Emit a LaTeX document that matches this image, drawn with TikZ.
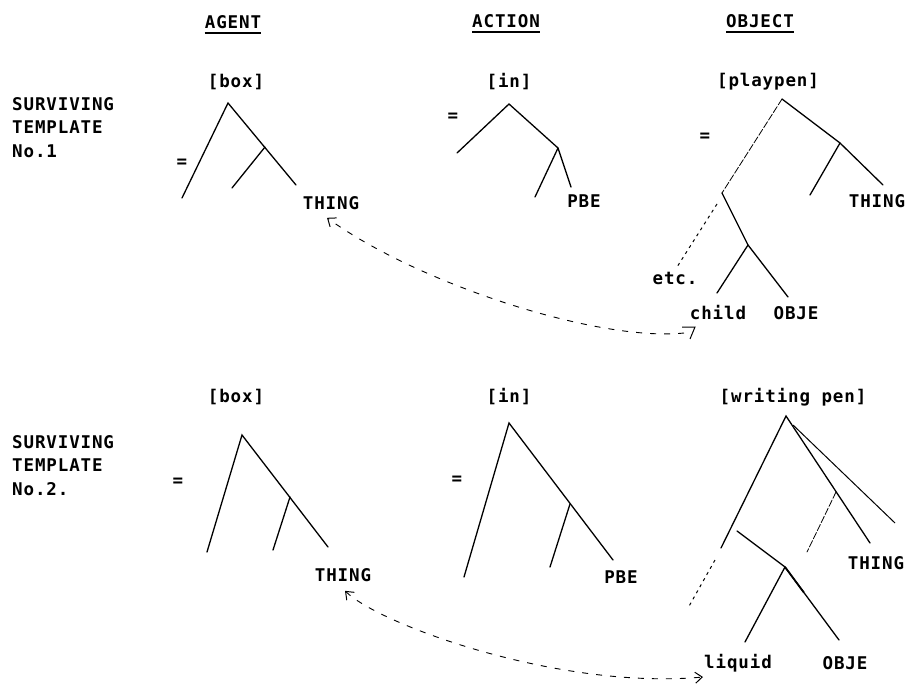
\documentclass[tikz,border=0pt]{standalone}
\usepackage{fontspec}
\newfontfamily\tw[LetterSpace=5]{DejaVu Sans Mono}
\usetikzlibrary{arrows.meta,calc}
\tikzset{
  lbl/.style={font=\tw\bfseries\fontsize{17.5}{23.5}\selectfont, inner sep=0pt},
  head/.style={lbl},
  side/.style={lbl, anchor=north west, align=left},
  br/.style={line width=1.3pt, line cap=round},
  faint/.style={line width=0.8pt, dash pattern=on 7pt off 2pt, line cap=round},
  dots/.style={line width=1pt, dash pattern=on 3pt off 4pt},
  link/.style={line width=0.9pt, dash pattern=on 6pt off 8pt},
  ul/.style={line width=1.6pt},
  barb/.style={Straight Barb[length=7pt,width=11pt,line width=1pt]}
}
\begin{document}
\begin{tikzpicture}[x=1pt,y=-1pt]
\useasboundingbox (0,0) rectangle (909,690);
% column headings
\node[head] (hag) at (233,22) {AGENT};
\node[head] (hac) at (506,21) {ACTION};
\node[head] (hob) at (760,21) {OBJECT};
\foreach \h in {hag,hac,hob}{
  \draw[ul] ([yshift=-4pt]\h.south west) -- ([yshift=-4pt]\h.south east);
}
% side labels
\node[side] (t1) at (12,97) {SURVIVING\\TEMPLATE\\No.1};
\node[side] (t2) at (12,435) {SURVIVING\\TEMPLATE\\No.2.};
% ---------- template 1 ----------
\node[lbl] (box1) at (236,82) {[box]};
\node[lbl] (in1) at (509,82) {[in]};
\node[lbl] (pp1) at (768,82) {[playpen]};
\node[lbl] (eqa1) at (182,163) {=};
\node[lbl] (eqb1) at (453,117) {=};
\node[lbl] (eqc1) at (705,137) {=};
\node[lbl] (th1) at (331,203) {THING};
\node[lbl] (pbe1) at (584,201) {PBE};
\node[lbl] (tho1) at (877,201) {THING};
\node[lbl] (etc1) at (675,278) {etc.};
\node[lbl] (ch1) at (718,313) {child};
\node[lbl] (ob1) at (796,313) {OBJE};
% agent tree 1
\coordinate (a1t) at (228,103); \coordinate (a1l) at (182,198);
\coordinate (a1r) at (296,185); \coordinate (a1m) at (265,147);
\coordinate (a1ml) at (232,188);
\draw[br] (a1l) -- (a1t) -- (a1r);
\draw[br] (a1m) -- (a1ml);
% action tree 1
\coordinate (b1t) at (509,104); \coordinate (b1l) at (457,153);
\coordinate (b1m) at (558,148); \coordinate (b1ml) at (535,197);
\coordinate (b1mr) at (571,187);
\draw[br] (b1l) -- (b1t) -- (b1m) -- (b1mr);
\draw[br] (b1m) -- (b1ml);
% object tree 1
\coordinate (c1t) at (782,99); \coordinate (c1r) at (840,143);
\coordinate (c1rl) at (810,195); \coordinate (c1rr) at (883,185);
\coordinate (c1l) at (722,193); \coordinate (c1ld) at (748,245);
\coordinate (c1e1) at (717,204); \coordinate (c1e2) at (677,267);
\coordinate (c1cl) at (717,293); \coordinate (c1cr) at (788,297);
\draw[br] (c1t) -- (c1r) -- (c1rr);
\draw[br] (c1r) -- (c1rl);
\draw[faint] (c1t) -- (c1l);
\draw[br] (c1l) -- (c1ld) -- (c1cr);
\draw[br] (c1ld) -- (c1cl);
\draw[dots] (c1e1) -- (c1e2);
% link 1
\coordinate (k1) at (684,333);
\draw[line width=1pt] (682,327) -- (695,327) -- (690,339);
\draw[link, -{Straight Barb[length=7pt,width=11pt,line width=1pt]}]
  (k1) .. controls (600,342) and (420,285) .. ([xshift=-4pt,yshift=-8pt]th1.south);
% ---------- template 2 ----------
\node[lbl] (box2) at (236,397) {[box]};
\node[lbl] (in2) at (509,397) {[in]};
\node[lbl] (wp2) at (793,397) {[writing pen]};
\node[lbl] (eqa2) at (178,482) {=};
\node[lbl] (eqb2) at (457,480) {=};
\node[lbl] (th2) at (343,575) {THING};
\node[lbl] (pbe2) at (621,577) {PBE};
\node[lbl] (tho2) at (876,563) {THING};
\node[lbl] (lq2) at (738,663) {liquid};
\node[lbl] (ob2) at (845,663) {OBJE};
% agent tree 2
\coordinate (a2t) at (242,435); \coordinate (a2l) at (207,552);
\coordinate (a2r) at (328,547); \coordinate (a2m) at (290,497);
\coordinate (a2ml) at (273,550);
\draw[br] (a2l) -- (a2t) -- (a2r);
\draw[br] (a2m) -- (a2ml);
% action tree 2
\coordinate (b2t) at (509,423); \coordinate (b2l) at (464,577);
\coordinate (b2r) at (613,560); \coordinate (b2m) at (570,504);
\coordinate (b2ml) at (550,567);
\draw[br] (b2l) -- (b2t) -- (b2r);
\draw[br] (b2m) -- (b2ml);
% object tree 2
\coordinate (c2t) at (786,416); \coordinate (c2l) at (721,548);
\coordinate (c2d1) at (715,560); \coordinate (c2d2) at (688,608);
\coordinate (c2r) at (870,543); \coordinate (c2t2) at (793,425);
\coordinate (c2rr) at (895,523); \coordinate (c2f1) at (836,492);
\coordinate (c2f2) at (807,552); \coordinate (c2s) at (737,531);
\coordinate (c2m) at (785,567); \coordinate (c2ml) at (745,642);
\coordinate (c2mr) at (839,640);
\draw[br] (c2l) -- (c2t) -- (c2r);
\draw[line width=1pt] (c2t2) -- (c2rr);
\draw[faint] (c2f1) -- (c2f2);
\draw[dots] (c2d1) -- (c2d2);
\draw[br] (c2s) -- (c2m) -- (c2mr);
\draw[line width=1.8pt] (c2m) -- ($(c2m)!0.35!(c2mr)$);
\draw[br] (c2m) -- (c2ml);
% link 2
\coordinate (k2) at (703,677);
\draw[link, {Straight Barb[length=7pt,width=11pt,line width=1pt]}-{Straight Barb[length=7pt,width=11pt,line width=1pt]}]
  ([xshift=2pt,yshift=-9pt]th2.south) .. controls (380,625) and (560,690) .. (k2);
\end{tikzpicture}
\end{document}
